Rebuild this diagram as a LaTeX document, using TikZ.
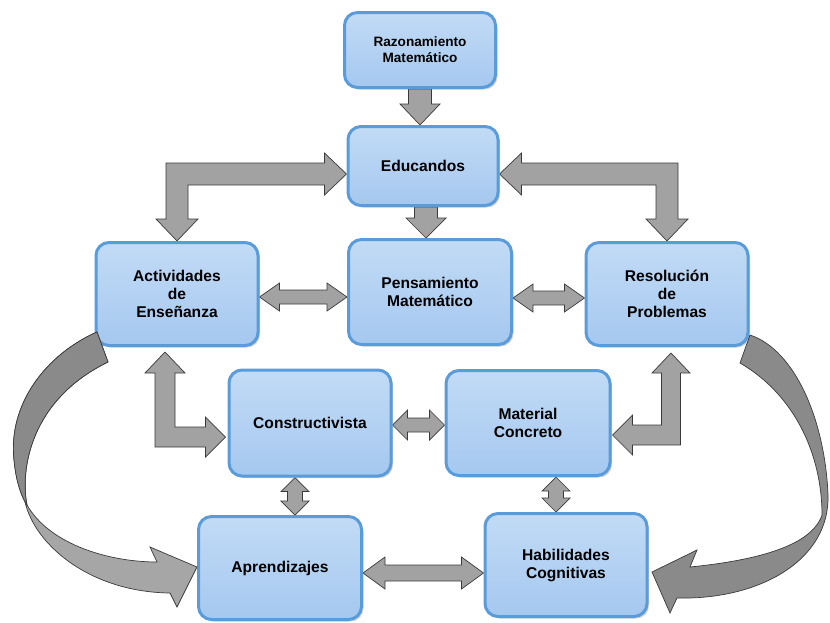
\documentclass[tikz,border=0pt]{standalone}
\usepackage{fontspec}
\setmainfont{Liberation Sans}
\usetikzlibrary{calc,shadows,backgrounds}
\definecolor{boxfill}{HTML}{A5C8EF}
\definecolor{boxtop}{HTML}{C2DBF6}
\definecolor{boxedge}{HTML}{5A9BDA}
\definecolor{arrfill}{HTML}{A2A2A2}
\definecolor{arrdark}{HTML}{8A8A8A}
\definecolor{arrlight}{HTML}{A6A6A6}
\definecolor{arredge}{HTML}{3A3A3A}

\newcommand\hdarr[6]{\path[garrow] let \p1=($(#1.east)+(0,#3)$), \p2=(#2.west) in
 (\x1,\y1) -- (\x1+#6,\y1+#5) -- (\x1+#6,\y1+#4) -- (\x2-#6,\y1+#4) -- (\x2-#6,\y1+#5) -- (\x2,\y1)
 -- (\x2-#6,\y1-#5) -- (\x2-#6,\y1-#4) -- (\x1+#6,\y1-#4) -- (\x1+#6,\y1-#5) -- cycle;}
\newcommand\vdarr[6]{\path[garrow] let \p1=(#1.south), \p2=(#2.north), \p3=($(#1.south)!.5!(#2.north)+(#3,0)$) in
 (\x3,\y1) -- (\x3+#5,\y1-#6) -- (\x3+#4,\y1-#6) -- (\x3+#4,\y2+#6) -- (\x3+#5,\y2+#6) -- (\x3,\y2)
 -- (\x3-#5,\y2+#6) -- (\x3-#4,\y2+#6) -- (\x3-#4,\y1-#6) -- (\x3-#5,\y1-#6) -- cycle;}

\begin{document}
\begin{tikzpicture}[x=1pt,y=-1pt,
 concept/.style={draw=boxedge, line width=3pt, rounded corners=13pt, top color=boxtop, bottom color=boxfill,
   align=center, font=\bfseries\fontsize{15.6}{18}\selectfont, inner sep=0pt,
   drop shadow={opacity=0.35, shadow xshift=2pt, shadow yshift=-2pt}},
 garrow/.style={fill=arrfill, draw=arredge, line width=0.7pt, line join=miter},
 curvarrow/.style={draw=arredge, line width=0.7pt}
]
\useasboundingbox (0,0) rectangle (830,622);

\node[concept, minimum width=151pt, minimum height=75pt, font=\bfseries\fontsize{13.6}{16}\selectfont] (raz) at (420,50) {Razonamiento\\Matemático};
\node[concept, minimum width=150pt, minimum height=79pt] (edu) at (423,166) {Educandos};
\node[concept, minimum width=162pt, minimum height=103pt] (act) at (177,294) {Actividades\\de\\Enseñanza};
\node[concept, minimum width=163pt, minimum height=105pt] (pen) at (430,292) {Pensamiento\\Matemático};
\node[concept, minimum width=162pt, minimum height=103pt] (res) at (667,294) {Resolución\\de\\Problemas};
\node[concept, minimum width=162pt, minimum height=106pt] (con) at (310,423) {Constructivista};
\node[concept, minimum width=164pt, minimum height=105pt] (mat) at (528,423) {Material\\Concreto};
\node[concept, minimum width=163pt, minimum height=103pt] (apr) at (280,568) {Aprendizajes};
\node[concept, minimum width=162pt, minimum height=103pt] (hab) at (566,565) {Habilidades\\Cognitivas};

\begin{scope}[on background layer]
% straight down arrows
\path[garrow] let \p1=(raz.south), \p2=(edu.north) in
 (\x1-11.5pt,\y1) -- (\x1+11.5pt,\y1) -- (\x1+11.5pt,\y2+21pt) -- (\x1+20pt,\y2+21pt) -- (\x1,\y2)
 -- (\x1-20pt,\y2+21pt) -- (\x1-11.5pt,\y2+21pt) -- cycle;
\path[garrow] let \p1=($(edu.south)+(3,0)$), \p2=(pen.north) in
 (\x1-11.5pt,\y1) -- (\x1+11.5pt,\y1) -- (\x1+11.5pt,\y2+20pt) -- (\x1+20pt,\y2+20pt) -- (\x1,\y2)
 -- (\x1-20pt,\y2+20pt) -- (\x1-11.5pt,\y2+20pt) -- cycle;
% left elbow
\path[garrow] let \p1=($(edu.west)+(0,8)$), \p2=(act.north) in
 (\x2-11pt,\y1+11pt) -- (\x1-22pt,\y1+11pt) -- (\x1-22pt,\y1+21pt) -- (\x1,\y1) -- (\x1-22pt,\y1-21pt)
 -- (\x1-22pt,\y1-11pt) -- (\x2+11pt,\y1-11pt) -- (\x2+11pt,\y2+22pt) -- (\x2+21pt,\y2+22pt) -- (\x2,\y2)
 -- (\x2-21pt,\y2+22pt) -- (\x2-11pt,\y2+22pt) -- cycle;
% right elbow
\path[garrow] let \p1=($(edu.east)+(0,8)$), \p2=(res.north) in
 (\x2+11pt,\y1+11pt) -- (\x1+22pt,\y1+11pt) -- (\x1+22pt,\y1+21pt) -- (\x1,\y1) -- (\x1+22pt,\y1-21pt)
 -- (\x1+22pt,\y1-11pt) -- (\x2-11pt,\y1-11pt) -- (\x2-11pt,\y2+22pt) -- (\x2-21pt,\y2+22pt) -- (\x2,\y2)
 -- (\x2+21pt,\y2+22pt) -- (\x2+11pt,\y2+22pt) -- cycle;
% horizontal double arrows
\hdarr{act}{pen}{3}{7pt}{14pt}{20pt}
\hdarr{pen}{res}{6}{7pt}{14pt}{20pt}
\hdarr{con}{mat}{2}{7pt}{15pt}{15pt}
\hdarr{apr}{hab}{5}{8pt}{16pt}{22pt}
% vertical double arrows
\vdarr{con}{apr}{0}{7.5pt}{14pt}{14pt}
\vdarr{mat}{hab}{9}{7.5pt}{14pt}{14pt}
% left L arrow
\path[garrow] let \p1=($(act.south)+(-12,5)$), \p2=($(con.west)+(-2,14)$) in
 (\x1-10pt,\y2-10pt) -- (\x1-10pt,\y1-21pt) -- (\x1-20pt,\y1-21pt) -- (\x1,\y1) -- (\x1+20pt,\y1-21pt)
 -- (\x1+10pt,\y1-21pt) -- (\x1+10pt,\y2+10pt) -- (\x2-20pt,\y2+10pt) -- (\x2-20pt,\y2+20pt) -- (\x2,\y2)
 -- (\x2-20pt,\y2-20pt) -- (\x2-20pt,\y2-10pt) -- cycle;
% right L arrow
\path[garrow] let \p1=($(res.south)+(4,6)$), \p2=($(mat.east)+(1,12)$) in
 (\x1+9.5pt,\y2-10pt) -- (\x1+9.5pt,\y1-20pt) -- (\x1+19pt,\y1-20pt) -- (\x1,\y1) -- (\x1-19pt,\y1-20pt)
 -- (\x1-9.5pt,\y1-20pt) -- (\x1-9.5pt,\y2+10pt) -- (\x2+20pt,\y2+10pt) -- (\x2+20pt,\y2+20pt) -- (\x2,\y2)
 -- (\x2+20pt,\y2-20pt) -- (\x2+20pt,\y2-10pt) -- cycle;
\end{scope}

% left curved arrow
\path[curvarrow, fill=arrlight] (97,332) .. controls (45,355) and (8,405) .. (14,460)
 .. controls (16,480) and (20,492) .. (25,502)
 .. controls (35,545) and (90,592) .. (170,593) -- (177,607) -- (197,567) -- (150,547) -- (157,562)
 .. controls (110,562) and (50,545) .. (27,505) .. controls (20,470) and (30,400) .. (108,362) -- cycle;
\path[curvarrow, fill=arrdark] (97,332) .. controls (45,355) and (8,405) .. (14,460)
 .. controls (16,480) and (20,492) .. (25,502) -- (27,505)
 .. controls (20,470) and (30,400) .. (108,362) -- cycle;
% right curved arrow
\path[curvarrow, fill=arrdark] (750,335) .. controls (795,350) and (825,420) .. (828,495)
 .. controls (830,560) and (760,600) .. (677,598) -- (670,613) -- (652,572) -- (697,550) -- (690,567)
 .. controls (760,560) and (812,545) .. (822,515) .. controls (822,455) and (795,395) .. (740,363) -- cycle;
\end{tikzpicture}
\end{document}
